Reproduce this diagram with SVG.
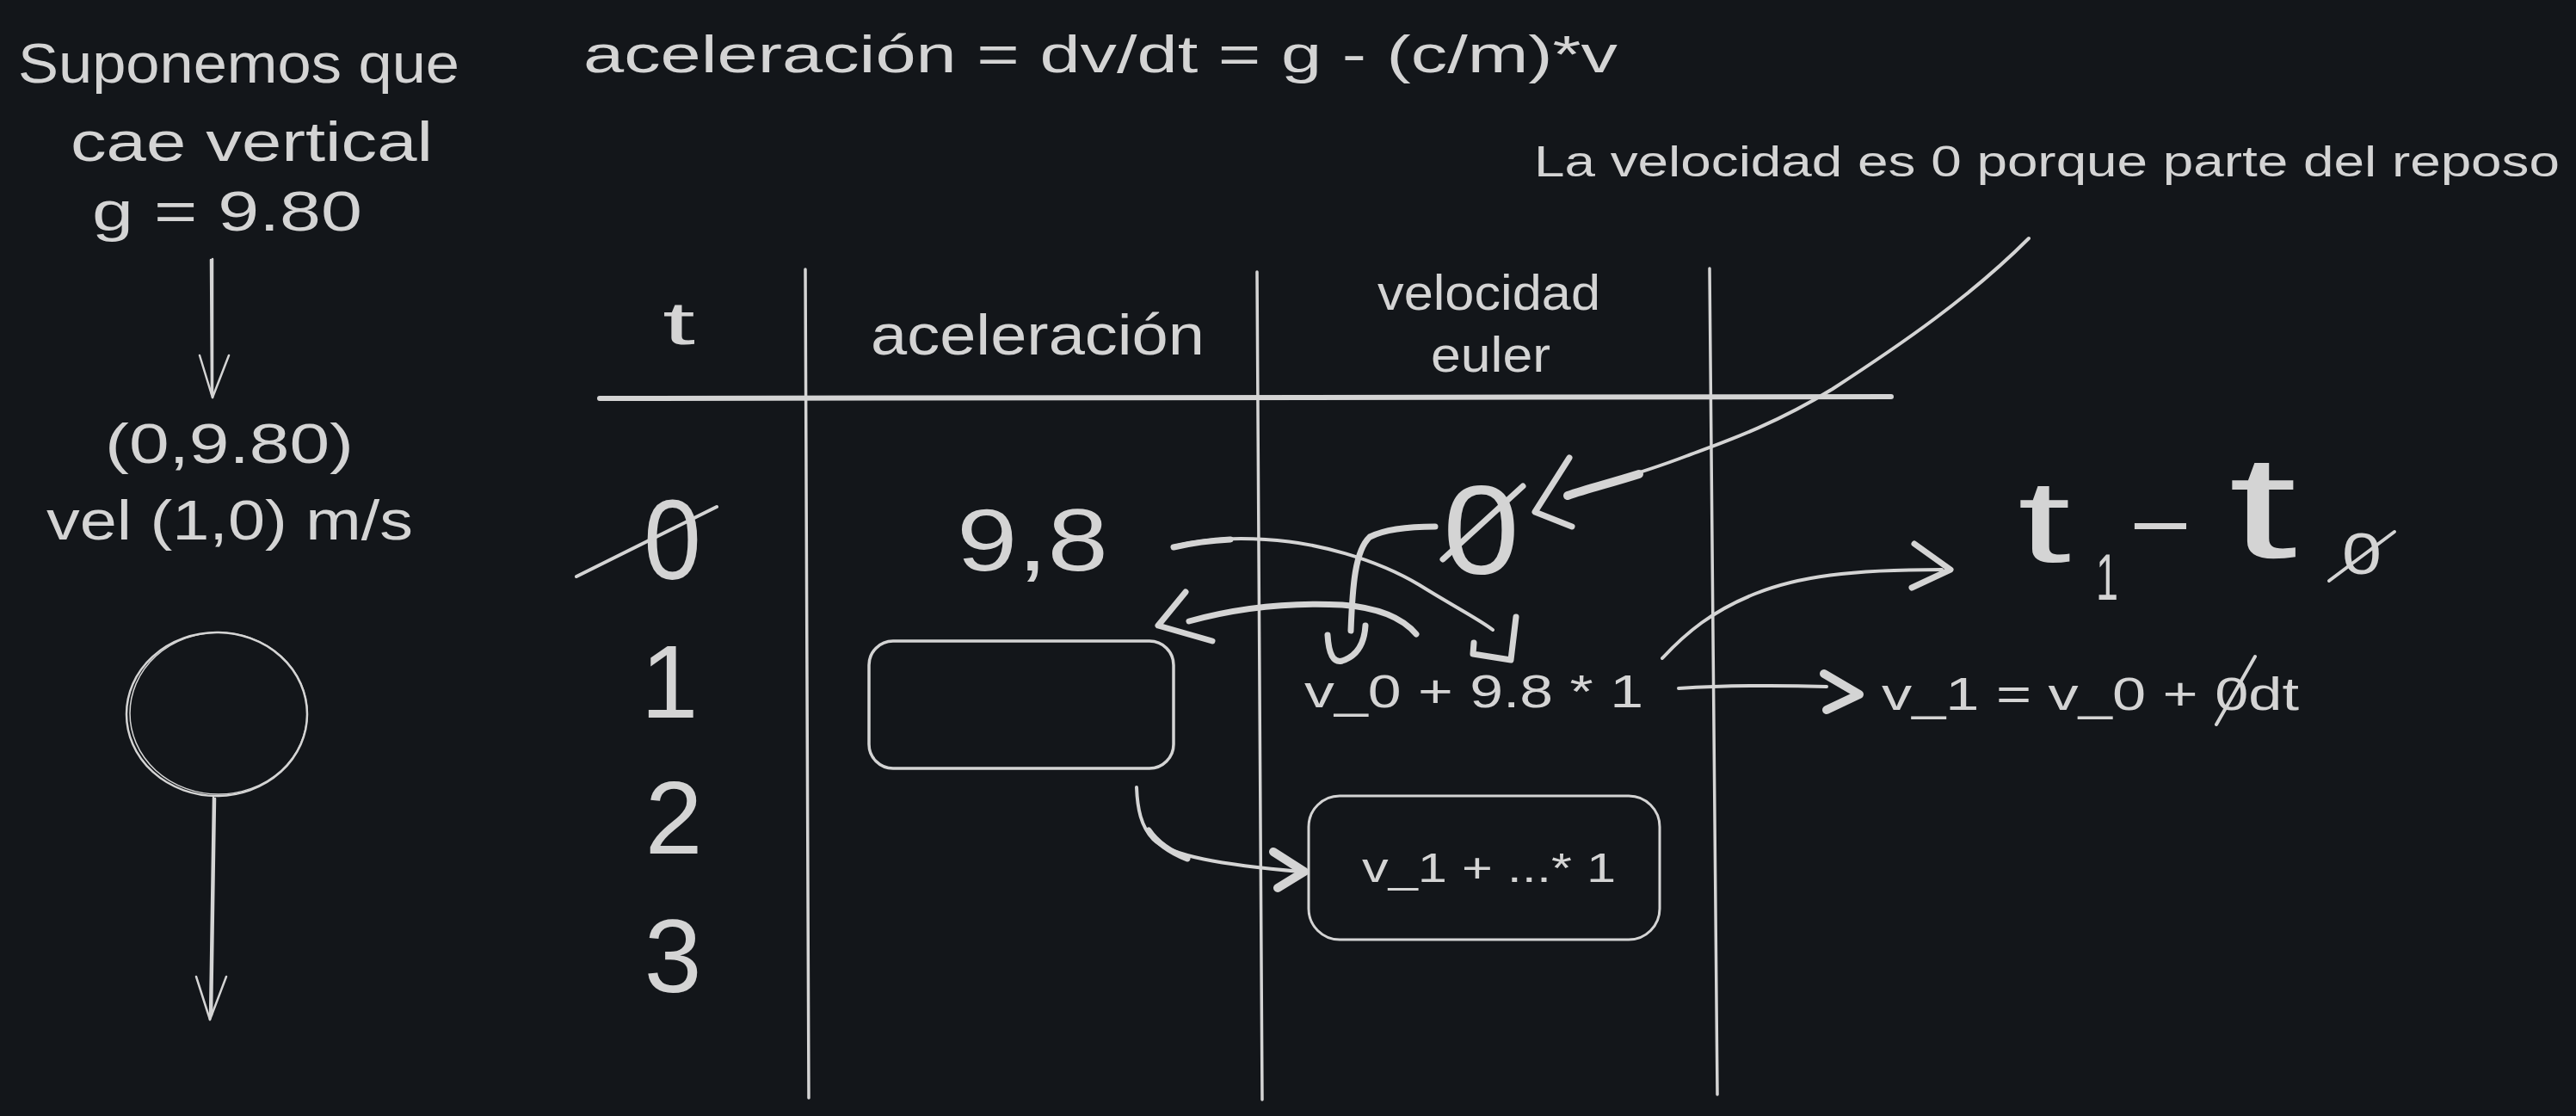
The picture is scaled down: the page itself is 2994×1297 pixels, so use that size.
<svg xmlns="http://www.w3.org/2000/svg" width="2994" height="1297" viewBox="0 0 2994 1297">
<defs>
<style>
.t{font-family:"Liberation Sans",Arial,sans-serif;fill:#d4d4d4;}
.s{fill:none;stroke:#d4d4d4;stroke-linecap:round;stroke-linejoin:round;}
.thin{stroke-width:2.5;}
.med{stroke-width:4;}
.thick{stroke-width:7;}
.heavy{stroke-width:10;}
</style>
</defs>
<rect x="0" y="0" width="2994" height="1297" fill="#13161a"/>

<g id="intro-text">
<text class="t" x="21" y="96" font-size="64" textLength="513" lengthAdjust="spacingAndGlyphs">Suponemos que</text>
<text class="t" x="82" y="187" font-size="64" textLength="421" lengthAdjust="spacingAndGlyphs">cae vertical</text>
<text class="t" x="107" y="268" font-size="64" textLength="314" lengthAdjust="spacingAndGlyphs">g = 9.80</text>
</g>

<g id="position-text">
<text class="t" x="122" y="538" font-size="64" textLength="289" lengthAdjust="spacingAndGlyphs">(0,9.80)</text>
<text class="t" x="54" y="627" font-size="64" textLength="426" lengthAdjust="spacingAndGlyphs">vel (1,0) m/s</text>
</g>

<g id="ball">
<ellipse class="s thin" cx="252" cy="830" rx="105" ry="95"/>
<ellipse class="s" stroke-width="1.5" cx="254" cy="829" rx="103" ry="94"/>
</g>

<g id="formula">
<text class="t" x="678" y="84" font-size="62" textLength="1202" lengthAdjust="spacingAndGlyphs">aceleración = dv/dt = g - (c/m)*v</text>
</g>

<g id="note">
<text class="t" x="1783" y="205" font-size="50" textLength="1192" lengthAdjust="spacingAndGlyphs">La velocidad es 0 porque parte del reposo</text>
</g>

<g id="table">
<line class="s" stroke-width="6" x1="697" y1="463" x2="2198" y2="461"/>
<line class="s" stroke-width="3.5" x1="936" y1="313" x2="940" y2="1276"/>
<line class="s" stroke-width="3.5" x1="1461" y1="316" x2="1467" y2="1278"/>
<line class="s" stroke-width="3.5" x1="1987" y1="312" x2="1996" y2="1272"/>
<text class="t" x="770" y="400" font-size="70" textLength="38" lengthAdjust="spacingAndGlyphs">t</text>
<text class="t" x="1012" y="412" font-size="66" textLength="388" lengthAdjust="spacingAndGlyphs">aceleración</text>
<text class="t" x="1601" y="360" font-size="58" textLength="259" lengthAdjust="spacingAndGlyphs">velocidad</text>
<text class="t" x="1663" y="432" font-size="58" textLength="139" lengthAdjust="spacingAndGlyphs">euler</text>
</g>

<g id="row-0">
<text class="t" x="748" y="673" font-size="132" textLength="67" lengthAdjust="spacingAndGlyphs">0</text>
<line class="s med" x1="670" y1="670" x2="833" y2="589"/>
<text class="t" x="1112" y="663" font-size="102" textLength="176" lengthAdjust="spacingAndGlyphs">9,8</text>
<text class="t" x="1677" y="667" font-size="146" textLength="89" lengthAdjust="spacingAndGlyphs">0</text>
<line class="s thick" x1="1677" y1="650" x2="1770" y2="565"/>
</g>

<g id="row-1">
<text class="t" x="778" y="834" font-size="120" text-anchor="middle">1</text>
<rect class="s" stroke-width="3.5" x="1010" y="745" width="354" height="148" rx="28"/>
<text class="t" x="1516" y="822" font-size="54" textLength="394" lengthAdjust="spacingAndGlyphs">v_0 + 9.8 * 1</text>
</g>

<g id="row-2">
<text class="t" x="783" y="992" font-size="120" text-anchor="middle">2</text>
<rect class="s" stroke-width="3" x="1521" y="925" width="408" height="167" rx="36"/>
<text class="t" x="1583" y="1025" font-size="48" textLength="295" lengthAdjust="spacingAndGlyphs">v_1 + ...* 1</text>
</g>

<g id="row-3">
<text class="t" x="782" y="1153" font-size="120" text-anchor="middle">3</text>
</g>

<g id="euler-step">
<text class="t" x="2187" y="825" font-size="54" textLength="485" lengthAdjust="spacingAndGlyphs">v_1 = v_0 + 0dt</text>
<line class="s med" x1="2576" y1="842" x2="2621" y2="763"/>
</g>

<g id="dt">
<text class="t" x="2345" y="653" font-size="135" textLength="62" lengthAdjust="spacingAndGlyphs">t</text>
<text class="t" x="2436" y="697" font-size="76" textLength="26" lengthAdjust="spacingAndGlyphs">1</text>
<text class="t" x="2470" y="636" font-size="90" textLength="82" lengthAdjust="spacingAndGlyphs">-</text>
<text class="t" x="2590" y="648" font-size="170" textLength="80" lengthAdjust="spacingAndGlyphs">t</text>
<text class="t" x="2722" y="667" font-size="68" textLength="46" lengthAdjust="spacingAndGlyphs">0</text>
<line class="s med" x1="2707" y1="675" x2="2783" y2="618"/>
</g>

<g id="connectors">
<path class="s thin" d="M247,301 L247,462 M245,302 L246,458"/>
<path class="s thin" d="M232,413 L247,462 L266,413"/>
<path class="s thin" d="M248,927 L244,1185 M250,928 L246,1180"/>
<path class="s thin" d="M228,1135 L244,1185 L263,1135"/>
<path class="s med" d="M2358,277 C2290,345 2210,400 2130,452 C2060,495 2000,515 1960,530 C1900,553 1860,562 1822,575"/>
<path class="s heavy" d="M1905,551 C1870,562 1845,568 1822,576"/>
<path class="s thick" d="M1824,532 L1784,595 L1827,612"/>
<path class="s med" d="M1364,635 C1400,626 1440,625 1471,627 C1530,630 1600,650 1650,680 C1690,705 1720,720 1735,732"/>
<path class="s thick" d="M1364,636 C1390,630 1410,628 1430,627"/>
<path class="s thick" d="M1762,717 L1756,767 L1712,760 L1713,747"/>
<path class="s thick" d="M1668,612 C1640,612 1612,614 1592,624 C1575,640 1572,680 1570,733"/>
<path class="s thick" d="M1543,738 Q1545,772 1560,768 Q1585,760 1587,727"/>
<path class="s thick" d="M1646,737 C1630,718 1600,706 1560,703 C1500,700 1440,706 1382,722"/>
<path class="s thick" d="M1378,688 L1346,727 L1409,745"/>
<path class="s med" d="M1321,915 C1322,940 1326,960 1340,975 C1360,995 1420,1005 1512,1013"/>
<path class="s thick" d="M1335,965 C1345,980 1360,990 1380,998"/>
<path class="s heavy" d="M1480,990 L1516,1013 L1485,1032"/>
<path class="s med" d="M1951,800 C2000,797 2060,796 2123,798"/>
<path class="s heavy" d="M2120,783 L2161,807 L2123,825"/>
<path class="s med" d="M1932,765 C1960,735 1990,710 2040,690 C2090,670 2150,662 2257,662"/>
<path class="s thick" d="M2225,632 L2267,662 L2222,683"/>
</g>
</svg>
